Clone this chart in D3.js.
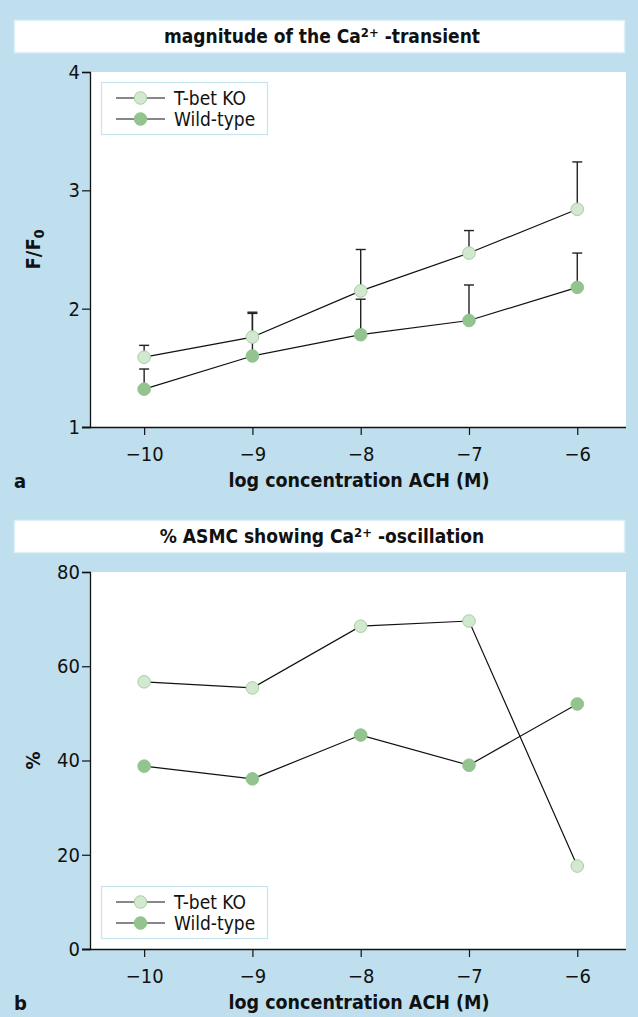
<!DOCTYPE html>
<html><head><meta charset="utf-8">
<script src="https://cdn.jsdelivr.net/npm/d3@7"></script>
<style>
html,body{margin:0;padding:0;background:#bfdfee;}
svg{display:block;}
text{font-family:"DejaVu Sans Condensed","Liberation Sans Narrow","Open Sans",sans-serif;fill:#111;}
</style></head>
<body>
<svg id="chart" width="638" height="1017"></svg>
<script>
// ---- data ----
const concentrations = [-10, -9, -8, -7, -6];
const xTickLabels = ["\u221210", "\u22129", "\u22128", "\u22127", "\u22126"];
const seriesNames = ["T-bet KO", "Wild-type"];

const magYTicks = [1, 2, 3, 4];
const magKO = [1.59, 1.76, 2.15, 2.47, 2.84];
const magKOErr = [0.10, 0.21, 0.35, 0.19, 0.40];
const magWT = [1.32, 1.60, 1.78, 1.90, 2.18];
const magWTErr = [0.17, 0.36, 0.30, 0.30, 0.29];

const oscYTicks = [0, 20, 40, 60, 80];
const oscKO = [56.7, 55.4, 68.5, 69.6, 17.6];
const oscWT = [38.8, 36.1, 45.4, 39.0, 52.0];

// ---- drawing ----
const svg = d3.select("#chart");
const KO_FILL = "#d3e8d0", KO_STROKE = "#a6d1a0";
const WT_FILL = "#93c48f", WT_STROKE = "#93c48f";
const FONT = '"DejaVu Sans Condensed","Liberation Sans Narrow",sans-serif';

function drawPanel(o) {
  const g = svg.append("g");
  // title box
  g.append("rect").attr("x", 14.5).attr("y", o.titleTop + 0.5).attr("width", 610).attr("height", 32)
    .attr("fill", "#fff").attr("stroke", "#dff0f7").attr("stroke-width", 1.5);
  const t = g.append("text").attr("x", 322).attr("y", o.titleTop + 23)
    .attr("text-anchor", "middle").attr("font-size", 19).attr("font-weight", "bold");
  t.append("tspan").text(o.titlePre);
  t.append("tspan").attr("font-size", 13).attr("dy", -6).text("2+");
  t.append("tspan").attr("dy", 6).text(" " + o.titlePost);

  const x = d3.scaleLinear().domain([-10.5, -5.55]).range([90, 626]);
  const y = d3.scaleLinear().domain(o.yDomain).range([o.bottom, o.top]);

  // plot area
  g.append("rect").attr("x", 90).attr("y", o.top).attr("width", 536).attr("height", o.bottom - o.top).attr("fill", "#fff");

  // axes
  const ya = g.append("g").attr("transform", "translate(90,0)")
    .call(d3.axisLeft(y).tickValues(o.yTicks).tickSize(8).tickPadding(2).tickFormat(d3.format("d")));
  ya.select(".domain").attr("stroke", "#111").attr("stroke-width", 1.3);
  ya.selectAll(".tick line").attr("stroke", "#111").attr("stroke-width", 1.2);
  ya.selectAll(".tick text").attr("font-size", 20).attr("fill", "#111").style("font-family", FONT);

  const xa = g.append("g").attr("transform", `translate(0,${o.bottom})`)
    .call(d3.axisBottom(x).tickValues(concentrations).tickSize(8).tickPadding(12)
      .tickFormat((d, i) => xTickLabels[i]));
  xa.select(".domain").attr("stroke", "#111").attr("stroke-width", 1.3).attr("d", `M82,0.5H626`);
  xa.selectAll(".tick line").attr("stroke", "#111").attr("stroke-width", 1.2);
  xa.selectAll(".tick text").attr("font-size", 20).attr("fill", "#111").style("font-family", FONT);

  // axis titles
  g.append("text").attr("x", 359).attr("y", o.bottom + 60).attr("text-anchor", "middle")
    .attr("font-size", 19.5).attr("font-weight", "bold").text("log concentration ACH (M)");
  g.append("text").attr("x", 14).attr("y", o.bottom + 61).attr("font-size", 20)
    .attr("font-weight", "bold").text(o.letter);
  const yl = g.append("text").attr("transform", `translate(40,${(o.top + o.bottom) / 2}) rotate(-90)`)
    .attr("text-anchor", "middle").attr("font-size", 20).attr("font-weight", "bold");
  if (o.yLabelSub) {
    yl.append("tspan").text(o.yLabel);
    yl.append("tspan").attr("font-size", 14).attr("dy", 4).text(o.yLabelSub);
  } else yl.text(o.yLabel);

  // error bars
  if (o.errs) {
    o.series.forEach((s, si) => {
      const err = o.errs[si];
      const eg = g.append("g");
      eg.selectAll("line.v").data(concentrations).join("line")
        .attr("x1", d => x(d)).attr("x2", d => x(d))
        .attr("y1", (d, i) => y(s[i])).attr("y2", (d, i) => y(s[i] + err[i]))
        .attr("stroke", "#222").attr("stroke-width", 1.4);
      eg.selectAll("line.c").data(concentrations).join("line")
        .attr("x1", d => x(d) - 5).attr("x2", d => x(d) + 5)
        .attr("y1", (d, i) => y(s[i] + err[i])).attr("y2", (d, i) => y(s[i] + err[i]))
        .attr("stroke", "#222").attr("stroke-width", 1.4);
    });
  }

  // lines
  const line = d3.line().x((d, i) => x(concentrations[i])).y(d => y(d));
  o.series.forEach(s => {
    g.append("path").datum(s).attr("d", line).attr("fill", "none")
      .attr("stroke", "#111").attr("stroke-width", 1.2);
  });
  // points
  const fills = [KO_FILL, WT_FILL], strokes = [KO_STROKE, WT_STROKE];
  o.series.forEach((s, si) => {
    g.selectAll(null).data(s).join("circle")
      .attr("cx", (d, i) => x(concentrations[i])).attr("cy", d => y(d)).attr("r", 6.3)
      .attr("fill", fills[si]).attr("stroke", strokes[si]).attr("stroke-width", 1);
  });

  // legend
  const lg = g.append("g");
  lg.append("rect").attr("x", 101.5).attr("y", o.legTop + 0.5).attr("width", 166).attr("height", 52)
    .attr("fill", "#fff").attr("stroke", "#c6e3f0").attr("stroke-width", 1.2);
  seriesNames.forEach((nm, i) => {
    const yy = o.legTop + 16 + i * 21;
    lg.append("line").attr("x1", 116).attr("x2", 165).attr("y1", yy).attr("y2", yy)
      .attr("stroke", "#111").attr("stroke-width", 1.2);
    lg.append("circle").attr("cx", 140.5).attr("cy", yy).attr("r", 6.3)
      .attr("fill", fills[i]).attr("stroke", strokes[i]).attr("stroke-width", 1);
    lg.append("text").attr("x", 174).attr("y", yy + 6.5).attr("font-size", 19).text(nm);
  });
}

drawPanel({
  titleTop: 20, titlePre: "magnitude of the Ca", titlePost: "-transient",
  top: 72, bottom: 427, yDomain: [1, 4], yTicks: magYTicks,
  yLabel: "F/F", yLabelSub: "0", letter: "a",
  series: [magKO, magWT], errs: [magKOErr, magWTErr], legTop: 82
});
drawPanel({
  titleTop: 520, titlePre: "% ASMC showing Ca", titlePost: "-oscillation",
  top: 572, bottom: 949, yDomain: [0, 80], yTicks: oscYTicks,
  yLabel: "%", letter: "b",
  series: [oscKO, oscWT], errs: null, legTop: 886
});
</script>
</body></html>
